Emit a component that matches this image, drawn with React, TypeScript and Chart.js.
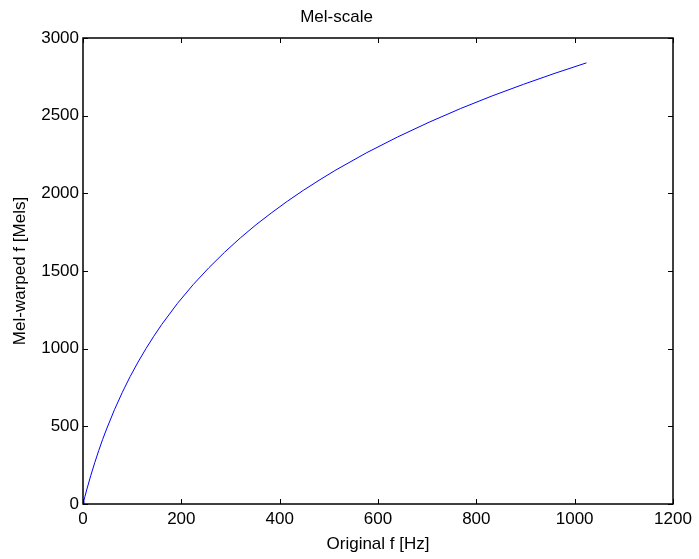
import React, { useEffect, useRef } from "react";
import { Chart, registerables } from "chart.js";

Chart.register(...registerables);

// Frequency-bin index along the horizontal axis
const binIndex = [
  0, 2, 4, 8, 16, 24, 32, 40, 48, 64, 80, 96, 112, 128, 144, 160, 192, 224,
  256, 288, 320, 352, 384, 416, 448, 480, 512, 576, 640, 704, 768, 832, 896,
  960, 1024,
];
// Warped frequency in mels for each bin
const melValues = [
  0, 25, 49, 96, 185, 267, 344, 416, 483, 607, 719, 821, 914, 1000, 1080,
  1155, 1291, 1412, 1521, 1621, 1713, 1798, 1876, 1950, 2019, 2084, 2146,
  2260, 2363, 2458, 2546, 2627, 2702, 2773, 2840,
];

const xTicks = [0, 200, 400, 600, 800, 1000, 1200];
const yTicks = [0, 500, 1000, 1500, 2000, 2500, 3000];

const FONT = "'Liberation Sans', Arial, Helvetica, sans-serif";

// Box around the axes with short inward tick marks on all four sides
const boxAndTicks = {
  id: "boxAndTicks",
  afterDraw(chart: any) {
    const { ctx, chartArea } = chart;
    const { left, right, top, bottom } = chartArea;
    const xs = chart.scales.x;
    const ys = chart.scales.y;
    const len = 5;
    ctx.save();
    ctx.strokeStyle = "#000";
    ctx.lineWidth = 1.5;
    ctx.strokeRect(left, top, right - left, bottom - top);
    ctx.lineWidth = 1;
    ctx.beginPath();
    for (const v of xTicks) {
      const px = Math.round(xs.getPixelForValue(v)) + 0.5;
      ctx.moveTo(px, bottom);
      ctx.lineTo(px, bottom - len);
      ctx.moveTo(px, top);
      ctx.lineTo(px, top + len);
    }
    for (const v of yTicks) {
      const py = Math.round(ys.getPixelForValue(v)) + 0.5;
      ctx.moveTo(left, py);
      ctx.lineTo(left + len, py);
      ctx.moveTo(right, py);
      ctx.lineTo(right - len, py);
    }
    ctx.stroke();
    ctx.restore();
  },
};

const plainLabel = (value: any) => String(value);

export default function App() {
  const canvasRef = useRef<HTMLCanvasElement | null>(null);

  useEffect(() => {
    const canvas = canvasRef.current;
    if (!canvas) return;
    const points = binIndex.map((x, i) => ({ x, y: melValues[i] }));
    const chart = new Chart(canvas, {
      type: "line",
      data: {
        datasets: [
          {
            data: points,
            borderColor: "#0000ff",
            borderWidth: 1,
            pointRadius: 0,
            tension: 0,
            fill: false,
          },
        ],
      },
      options: {
        animation: false,
        responsive: false,
        maintainAspectRatio: false,
        events: [],
        layout: { padding: { left: 0, right: 26, top: 0, bottom: 0 } },
        plugins: {
          legend: { display: false },
          tooltip: { enabled: false },
          title: {
            display: true,
            text: "Mel-scale",
            color: "#000",
            font: { family: FONT, size: 17, weight: "normal" },
            padding: { top: 7, bottom: 10.6 },
          },
        },
        scales: {
          x: {
            type: "linear",
            min: 0,
            max: 1200,
            afterFit: (s: any) => {
              s.height = 55;
            },
            afterBuildTicks: (s: any) => {
              s.ticks = xTicks.map((v) => ({ value: v }));
            },
            grid: { display: false, drawTicks: false },
            border: { display: false },
            ticks: {
              color: "#000",
              padding: 5,
              maxRotation: 0,
              font: { family: FONT, size: 17 },
              callback: plainLabel,
            },
            title: {
              display: true,
              text: "Original f [Hz]",
              color: "#000",
              font: { family: FONT, size: 17 },
              padding: { top: 0, bottom: 4 },
            },
          },
          y: {
            type: "linear",
            min: 0,
            max: 3000,
            afterFit: (s: any) => {
              s.width = 83;
            },
            afterBuildTicks: (s: any) => {
              s.ticks = yTicks.map((v) => ({ value: v }));
            },
            grid: { display: false, drawTicks: false },
            border: { display: false },
            ticks: {
              color: "#000",
              padding: 4,
              font: { family: FONT, size: 17 },
              callback: plainLabel,
            },
            title: {
              display: true,
              text: "Mel-warped f [Mels]",
              color: "#000",
              font: { family: FONT, size: 17 },
              padding: { top: 10, bottom: 0 },
            },
          },
        },
      },
      plugins: [boxAndTicks],
    });
    return () => chart.destroy();
  }, []);

  return (
    <div
      style={{
        position: "absolute",
        left: 0,
        top: 0,
        width: 699,
        height: 559,
        background: "#fff",
      }}
    >
      <canvas ref={canvasRef} width={699} height={559} />
    </div>
  );
}
